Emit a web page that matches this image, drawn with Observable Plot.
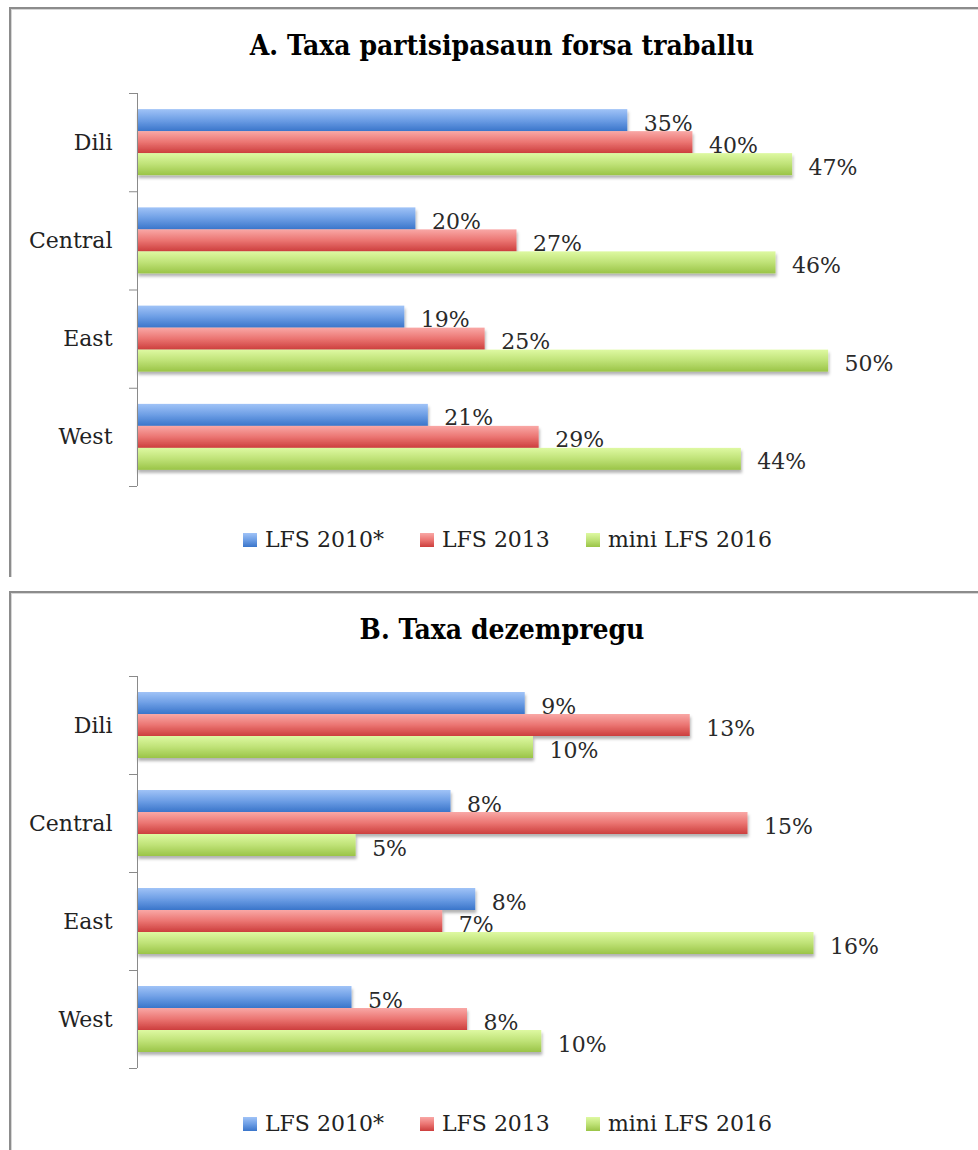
<!DOCTYPE html>
<html>
<head>
<meta charset="utf-8">
<script src="https://cdn.jsdelivr.net/npm/d3@7"></script>
<script src="https://cdn.jsdelivr.net/npm/@observablehq/plot@0.6"></script>
<style>
html,body{margin:0;padding:0;background:#fff;}
#wrap{position:relative;width:978px;height:1150px;overflow:hidden;background:#fff;font-family:"DejaVu Serif",serif;}
.frame{position:absolute;left:9px;width:1100px;border-top:2px solid #8c8c8c;border-left:2px solid #8c8c8c;box-shadow:inset 1px 1px 0 #d6d6d6;}
.title{position:absolute;left:0;width:1004px;text-align:center;font-family:"DejaVu Serif Condensed","DejaVu Serif",serif;font-stretch:condensed;font-weight:bold;font-size:28px;color:#000;line-height:32px;white-space:nowrap;}
.legend{position:absolute;left:243px;display:flex;align-items:center;gap:36px;font-size:22px;line-height:26px;color:#222;white-space:nowrap;}
.item{display:flex;align-items:center;gap:8px;}
.sw{width:14px;height:14px;}
.plotwrap{position:absolute;left:0;}
</style>
</head>
<body>
<div id="wrap"></div>
<script>
// ---- data ----
const regions = ["Dili", "Central", "East", "West"];
const series = ["LFS 2010*", "LFS 2013", "mini LFS 2016"];
const titles = ["A. Taxa partisipasaun forsa traballu", "B. Taxa dezempregu"];

// Panel A: labour force participation rate (%)
const participation2010 = [35.4, 20.1, 19.3, 21.0];
const participation2013 = [40.1, 27.4, 25.1, 29.0];
const participation2016 = [47.3, 46.1, 49.9, 43.6];

// Panel B: unemployment rate (%)
const unemployment2010 = [9.4, 7.6, 8.2, 5.2];
const unemployment2013 = [13.4, 14.8, 7.4, 8.0];
const unemployment2016 = [9.6, 5.3, 16.4, 9.8];

// series colours (top, middle, bottom of the bevel gradient)
const seriesColors = [
  ["#a0c3f7", "#6d9ee5", "#3a75ca"],
  ["#f9a8a6", "#eb7572", "#cc3e3d"],
  ["#def9a2", "#bfe277", "#9ac447"]
];

function rowsOf(arrs) {
  return arrs.flatMap((vals, si) => regions.map((r, ri) => ({region: r, series: series[si], value: vals[ri]})));
}

const wrap = document.getElementById("wrap");

function makePanel({id, title, rows, xDomain, top, frameHeight, titleTop, legendTop, height, marginTop, marginBottom, marginRight}) {
  const frame = document.createElement("div");
  frame.className = "frame";
  frame.style.top = top + "px";
  frame.style.height = frameHeight + "px";
  wrap.appendChild(frame);

  const t = document.createElement("div");
  t.className = "title";
  t.style.top = titleTop + "px";
  t.textContent = title;
  wrap.appendChild(t);

  const innerH = height - marginTop - marginBottom;
  const step = innerH / regions.length;
  const bandwidth = 66;
  const pin = 1 - bandwidth / step;
  const thick = bandwidth / series.length;
  const axisColor = "#8a8a8a";

  const marks = [];
  series.forEach((s, i) => {
    marks.push(Plot.barX(rows.filter(d => d.series === s), {
      y: "region", x1: 0, x2: "value",
      fill: `url(#${id}g${i})`,
      insetTop: i * thick, insetBottom: (series.length - 1 - i) * thick
    }));
  });
  marks.push(Plot.ruleX([0], {stroke: axisColor}));
  marks.push(Plot.ruleY(regions, {y: d => d, x1: 0, x2: 0, insetLeft: -8, dy: -step / 2, stroke: axisColor}));
  marks.push(Plot.ruleY(regions.slice(-1), {y: d => d, x1: 0, x2: 0, insetLeft: -8, dy: step / 2, stroke: axisColor}));
  marks.push(Plot.text(regions, {y: d => d, frameAnchor: "left", dx: -25, textAnchor: "end", fill: "#222", fontSize: 22}));
  series.forEach((s, i) => {
    marks.push(Plot.text(rows.filter(d => d.series === s), {
      y: "region", x: "value", text: d => Math.round(d.value) + "%",
      dx: 16, dy: (i - 1) * thick + 3, textAnchor: "start", fill: "#2a2a2a", fontSize: 22
    }));
  });

  const svg = Plot.plot({
    width: 978, height, marginLeft: 137, marginRight, marginTop, marginBottom,
    x: {domain: xDomain, axis: null},
    y: {domain: regions, axis: null, paddingInner: pin, paddingOuter: pin / 2, round: false},
    style: {fontFamily: '"DejaVu Serif", serif', background: "transparent", overflow: "visible"},
    marks
  });

  const s = d3.select(svg);
  const defs = s.insert("defs", ":first-child");
  seriesColors.forEach((stops, i) => {
    const g = defs.append("linearGradient").attr("id", `${id}g${i}`)
      .attr("x1", 0).attr("y1", 0).attr("x2", 0).attr("y2", 1);
    stops.forEach((c, j) => g.append("stop").attr("offset", j / (stops.length - 1)).attr("stop-color", c));
  });
  const f = defs.append("filter").attr("id", `${id}sh`)
    .attr("x", "-5%").attr("y", "-40%").attr("width", "115%").attr("height", "200%");
  f.append("feDropShadow").attr("dx", 1).attr("dy", 3).attr("stdDeviation", 1.6)
    .attr("flood-color", "#000").attr("flood-opacity", 0.3);
  s.selectAll('g[aria-label="bar"]').attr("filter", `url(#${id}sh)`);

  const pw = document.createElement("div");
  pw.className = "plotwrap";
  pw.style.top = top + "px";
  pw.appendChild(svg);
  wrap.appendChild(pw);

  const lg = document.createElement("div");
  lg.className = "legend";
  lg.style.top = legendTop + "px";
  series.forEach((name, i) => {
    const it = document.createElement("div");
    it.className = "item";
    const sw = document.createElement("div");
    sw.className = "sw";
    sw.style.background = `linear-gradient(to bottom, ${seriesColors[i].join(",")})`;
    const tx = document.createElement("span");
    tx.textContent = name;
    it.appendChild(sw);
    it.appendChild(tx);
    lg.appendChild(it);
  });
  wrap.appendChild(lg);
}

makePanel({
  id: "pa", title: titles[0],
  rows: rowsOf([participation2010, participation2013, participation2016]),
  xDomain: [0, 60], top: 7, frameHeight: 568, titleTop: 30, legendTop: 527,
  height: 500, marginTop: 86, marginBottom: 21, marginRight: 10
});
makePanel({
  id: "pb", title: titles[1],
  rows: rowsOf([unemployment2010, unemployment2013, unemployment2016]),
  xDomain: [0, 20], top: 591, frameHeight: 600, titleTop: 614, legendTop: 1111,
  height: 500, marginTop: 85, marginBottom: 23, marginRight: 16
});
</script>
</body>
</html>
